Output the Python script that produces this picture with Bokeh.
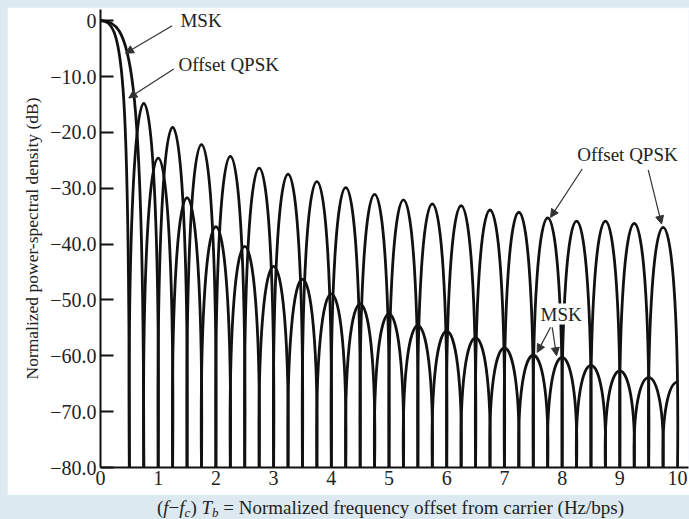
from bokeh.plotting import figure
from bokeh.layouts import column
from bokeh.models import (ColumnDataSource, FixedTicker, CustomJSTickFormatter,
                          Label, Arrow, NormalHead, Div)
from bokeh.embed import file_html
from bokeh.resources import INLINE

# ---------------- data ----------------
# normalized frequency (f - fc) Tb at which each spectrum has a null
oqpsk_nulls = [0.5, 1.0, 1.5, 2.0, 2.5, 3.0, 3.5, 4.0, 4.5, 5.0,
               5.5, 6.0, 6.5, 7.0, 7.5, 8.0, 8.5, 9.0, 9.5, 10.0]
# peak level (dB) of each side lobe between consecutive nulls
oqpsk_peaks_db = [-14.8, -19.1, -22.2, -24.3, -26.4, -27.5, -28.8, -29.9, -31.1, -32.1,
                  -32.8, -33.1, -33.9, -34.3, -35.3, -35.9, -35.9, -36.3, -37.0]

msk_nulls = [0.75, 1.25, 1.75, 2.25, 2.75, 3.25, 3.75, 4.25, 4.75, 5.25,
             5.75, 6.25, 6.75, 7.25, 7.75, 8.25, 8.75, 9.25, 9.75]
# peak level of each MSK side lobe; the last one is the lobe cut at the right edge
msk_peaks_db = [-24.6, -31.7, -36.9, -40.4, -44.0, -46.3, -48.9, -50.7, -52.5, -54.6,
                -55.6, -56.8, -58.6, -59.9, -60.3, -61.7, -62.7, -63.9, -64.7]

main_lobe_peak_db = 0.0

x_ticks = [0, 1, 2, 3, 4, 5, 6, 7, 8, 9, 10]
y_ticks = [0, -10, -20, -30, -40, -50, -60, -70, -80]
y_tick_labels = ["0", "\u221210.0", "\u221220.0", "\u221230.0", "\u221240.0",
                 "\u221250.0", "\u221260.0", "\u221270.0", "\u221280.0"]

FLOOR = y_ticks[-1]
X_END = x_ticks[-1]

FONT = "Liberation Serif"
INK = "#111111"
TXT = "#222222"
K = -0.12   # arch shape: control points slightly outside the nulls (flat tops)

# ---------------- build lobe curves (cubic Bezier arches) ----------------
def arches(nulls, peaks):
    d = dict(x0=[], y0=[], x1=[], y1=[], cx0=[], cy0=[], cx1=[], cy1=[])
    n_full = len(nulls) - 1
    for i in range(n_full):
        a, b, pk = nulls[i], nulls[i + 1], peaks[i]
        w = b - a
        c = FLOOR + (pk - FLOOR) / 0.75
        d["x0"].append(a); d["y0"].append(FLOOR)
        d["x1"].append(b); d["y1"].append(FLOOR)
        d["cx0"].append(a + K * w); d["cy0"].append(c)
        d["cx1"].append(b - K * w); d["cy1"].append(c)
    if len(peaks) > n_full:  # left half of an arch, cut at the right edge
        a, pk = nulls[-1], peaks[-1]
        b = a + 2 * (X_END - a)
        w = b - a
        c = FLOOR + (pk - FLOOR) / 0.75
        p0x, p1x, p2x = a, a + K * w, b - K * w
        d["x0"].append(a); d["y0"].append(FLOOR)
        d["x1"].append(X_END); d["y1"].append(pk)
        d["cx0"].append((p0x + p1x) / 2); d["cy0"].append((FLOOR + c) / 2)
        d["cx1"].append((p0x + 2 * p1x + p2x) / 4); d["cy1"].append((FLOOR + 3 * c) / 4)
    return d

def main_lobe(null, top, sharp_x, drop_y):
    return dict(x0=[0.0], y0=[top], x1=[null], y1=[FLOOR],
                cx0=[null * sharp_x], cy0=[top], cx1=[null], cy1=[top + drop_y])

p = figure(width=682, height=488, output_backend="svg", toolbar_location=None,
           x_range=(0, 10.19), y_range=(FLOOR, 2.0),
           min_border_left=93, min_border_right=1, min_border_top=2, min_border_bottom=28)
p.background_fill_color = "white"
p.border_fill_color = "white"
p.outline_line_color = None
p.grid.visible = False

for src in (arches(oqpsk_nulls, oqpsk_peaks_db), arches(msk_nulls, msk_peaks_db),
            main_lobe(oqpsk_nulls[0], main_lobe_peak_db, 0.75, -6.0),
            main_lobe(msk_nulls[0], main_lobe_peak_db, 0.67, -5.0)):
    p.bezier(x0="x0", y0="y0", x1="x1", y1="y1", cx0="cx0", cy0="cy0",
             cx1="cx1", cy1="cy1", source=ColumnDataSource(src),
             line_color=INK, line_width=2.8)

# ---------------- axes ----------------
xa = p.xaxis[0]
xa.ticker = FixedTicker(ticks=x_ticks)
xa.major_tick_in = 0
xa.major_tick_out = 0
xa.minor_tick_in = 0
xa.minor_tick_out = 0
xa.axis_line_width = 2
xa.axis_line_color = INK
xa.major_label_text_font = FONT
xa.major_label_text_font_size = "20px"
xa.major_label_text_color = TXT
xa.major_label_standoff = 3

ya = p.yaxis[0]
ya.ticker = FixedTicker(ticks=y_ticks)
ya.formatter = CustomJSTickFormatter(
    args=dict(vals=y_ticks, labs=y_tick_labels),
    code="const i = vals.indexOf(tick); return i >= 0 ? labs[i] : '';")
ya.major_tick_in = 13
ya.major_tick_out = 0
ya.major_tick_line_width = 2
ya.major_tick_line_color = INK
ya.minor_tick_in = 0
ya.minor_tick_out = 0
ya.axis_line_width = 2
ya.axis_line_color = INK
ya.major_label_text_font = FONT
ya.major_label_text_font_size = "20px"
ya.major_label_text_color = TXT
ya.major_label_standoff = 4
ya.axis_label = "Normalized power-spectral density (dB)"
ya.axis_label_text_font = FONT
ya.axis_label_text_font_size = "17.5px"
ya.axis_label_text_font_style = "normal"
ya.axis_label_text_color = TXT
ya.axis_label_standoff = 5

# ---------------- annotations ----------------
def note(x, y, text, bg=None):
    p.add_layout(Label(x=x, y=y, text=text, text_font=FONT, text_font_size="19px",
                       text_color=TXT, text_baseline="middle", text_align="left",
                       background_fill_color=bg))

def arrow(xs, ys, xe, ye):
    p.add_layout(Arrow(x_start=xs, y_start=ys, x_end=xe, y_end=ye,
                       line_color="#333333", line_width=1.2,
                       end=NormalHead(size=8, fill_color="#333333", line_color="#333333")))

note(1.386, 0.0, "MSK")
arrow(1.243, -0.9, 0.433, -5.85)
note(1.352, -7.79, "Offset QPSK")
arrow(1.27, -8.65, 0.49, -13.84)
note(8.262, -23.99, "Offset QPSK")
arrow(8.348, -26.55, 7.799, -35.22)
arrow(9.492, -26.73, 9.723, -36.4)
note(7.626, -52.52, "MSK", bg="white")
arrow(7.799, -54.9, 7.568, -59.39)
arrow(7.828, -54.9, 7.903, -59.98)

# ---------------- x axis title (rich text: italics and subscripts) ----------------
SUB = "font-size:13px; font-style:italic; vertical-align:-3px; line-height:0;"
x_title = Div(
    text=('<div style="margin-left:145px; white-space:nowrap; font-family:\'Liberation Serif\';'
          ' font-size:19px; line-height:16px; color:#222222;">'
          '(<i>f</i>\u2212<i>f</i><sub style="' + SUB + '">c</sub>) '
          '<i>T</i><sub style="' + SUB + '">b</sub>'
          ' = Normalized frequency offset from carrier (Hz/bps)</div>'),
    width=682, height=24)

page = column(p, x_title, spacing=0,
              styles={"padding-top": "7px", "padding-left": "7px",
                      "background-color": "#dde9f1"})

open("out.html", "w").write(file_html(page, INLINE))
